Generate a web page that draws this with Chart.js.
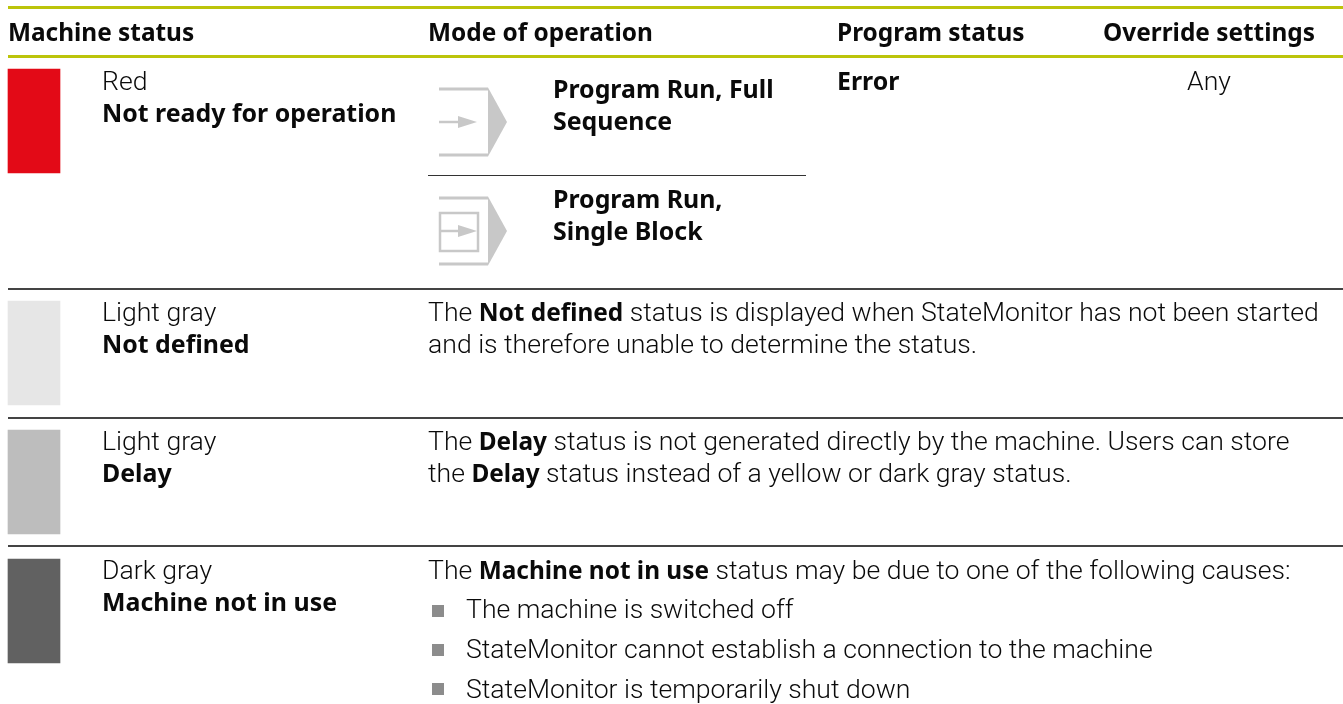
<!DOCTYPE html>
<html>
<head>
<meta charset="utf-8">
<title>Machine status</title>
<script src="https://cdn.jsdelivr.net/npm/chart.js@4"></script>
<style>
  html, body { margin: 0; padding: 0; background: #fff; }
  #wrap { width: 1343px; height: 704px; }
  canvas { display: block; }
</style>
</head>
<body>
<div id="wrap"><canvas id="statusChart" width="1343" height="704"></canvas></div>
<script>
const headers = ['Machine status', 'Mode of operation', 'Program status', 'Override settings'];
const colourNames = ['Red', 'Light gray', 'Light gray', 'Dark gray'];
const statusNames = ['Not ready for operation', 'Not defined', 'Delay', 'Machine not in use'];
const swatchColours = ['#e30a17', '#e6e6e6', '#bdbdbd', '#616161'];
const swatchTop = [69, 301, 430, 559];
const swatchBottom = [173, 405, 534, 663];
const modesFull = ['Program Run, Full', 'Sequence'];
const modesSingle = ['Program Run,', 'Single Block'];
const notDefinedText = ['The *Not defined* status is displayed when StateMonitor has not been started', 'and is therefore unable to determine the status.'];
const delayText = ['The *Delay* status is not generated directly by the machine. Users can store', 'the *Delay* status instead of a yellow or dark gray status.'];
const notInUseText = 'The *Machine not in use* status may be due to one of the following causes:';
const causes = ['The machine is switched off', 'StateMonitor cannot establish a connection to the machine', 'StateMonitor is temporarily shut down'];

const HEAD = 'bold 24.4px "Noto Sans"';
const BOLD = 'bold 24.9px "Noto Sans"';
const INLINE_BOLD = 'bold 24.4px "Noto Sans"';
const LIGHT = '300 26.6px Roboto';
const GREEN = '#bcc40a';
const ICON = '#c8c8c8';
const INK = '#0a0a0a';

function runs(ctx, x, y, str) {
  str.split('*').forEach((part, i) => {
    ctx.font = i % 2 ? INLINE_BOLD : LIGHT;
    ctx.fillText(part, x, y);
    x += ctx.measureText(part).width;
  });
}

function icon(ctx, x, y, boxed) {
  ctx.save();
  ctx.strokeStyle = ICON;
  ctx.fillStyle = ICON;
  ctx.lineWidth = 3;
  ctx.beginPath();
  ctx.moveTo(x, y);
  ctx.lineTo(x + 49, y);
  ctx.moveTo(x, y + 66);
  ctx.lineTo(x + 49, y + 66);
  ctx.stroke();
  ctx.beginPath();
  ctx.moveTo(x + 49, y - 1.5);
  ctx.lineTo(x + 68, y + 33);
  ctx.lineTo(x + 49, y + 67.5);
  ctx.closePath();
  ctx.fill();
  ctx.lineWidth = 2.5;
  if (boxed) ctx.strokeRect(x + 1, y + 15, 38, 38);
  ctx.beginPath();
  ctx.moveTo(x, y + 33);
  ctx.lineTo(x + 26, y + 33);
  ctx.stroke();
  ctx.beginPath();
  ctx.moveTo(x + 19, y + 27);
  ctx.lineTo(x + 38, y + 33);
  ctx.lineTo(x + 19, y + 39);
  ctx.closePath();
  ctx.fill();
  ctx.restore();
}

const tablePlugin = {
  id: 'tablePlugin',
  afterDatasetsDraw(chart) {
    const ctx = chart.ctx;
    const px = v => chart.scales.x.getPixelForValue(v);
    const py = v => chart.scales.y.getPixelForValue(v);
    ctx.save();

    // rules
    ctx.fillStyle = GREEN;
    ctx.fillRect(px(8), py(6), px(1343) - px(8), 3);
    ctx.fillRect(px(8), py(55), px(1343) - px(8), 3);
    ctx.fillStyle = '#444';
    [288, 417, 545].forEach(y => ctx.fillRect(px(8), py(y), px(1343) - px(8), 2));
    ctx.fillStyle = '#333';
    ctx.fillRect(px(428), py(175), 378, 1);

    ctx.fillStyle = INK;
    ctx.textBaseline = 'alphabetic';
    ctx.font = HEAD;
    [8, 428, 837, 1103].forEach((x, i) => ctx.fillText(headers[i], px(x), py(41)));

    // first column
    [90, 321, 450, 579].forEach((y, i) => {
      ctx.font = LIGHT;
      ctx.fillText(colourNames[i], px(102), py(y));
      ctx.font = BOLD;
      ctx.fillText(statusNames[i], px(102), py(y + 32));
    });

    // first row
    icon(ctx, px(439), py(89), false);
    icon(ctx, px(439), py(198), true);
    ctx.font = BOLD;
    modesFull.forEach((t, i) => ctx.fillText(t, px(553), py(98 + i * 32)));
    modesSingle.forEach((t, i) => ctx.fillText(t, px(553), py(208 + i * 32)));
    ctx.fillText('Error', px(837), py(90));
    ctx.font = LIGHT;
    ctx.textAlign = 'center';
    ctx.fillText('Any', px(1209), py(90));
    ctx.textAlign = 'left';

    // description rows
    notDefinedText.forEach((t, i) => runs(ctx, px(428), py(321 + i * 32), t));
    delayText.forEach((t, i) => runs(ctx, px(428), py(450 + i * 32), t));
    runs(ctx, px(428), py(579), notInUseText);
    ctx.font = LIGHT;
    causes.forEach((t, i) => {
      ctx.fillStyle = '#8c8c8c';
      ctx.fillRect(px(432), py(605 + i * 39), 12, 12);
      ctx.fillStyle = INK;
      ctx.fillText(t, px(466), py(618 + i * 40));
    });
    ctx.restore();
  }
};

new Chart(document.getElementById('statusChart').getContext('2d'), {
  type: 'bar',
  data: {
    labels: statusNames,
    datasets: [{
      label: 'Machine status',
      data: statusNames.map((s, i) => ({ x: 34, y: [swatchTop[i], swatchBottom[i]] })),
      backgroundColor: swatchColours,
      barThickness: 52,
      borderSkipped: false
    }]
  },
  options: {
    responsive: false,
    animation: false,
    layout: { padding: 0 },
    plugins: { legend: { display: false }, tooltip: { enabled: false } },
    scales: {
      x: { type: 'linear', display: false, offset: false, min: 0, max: 1343 },
      y: { display: false, reverse: true, min: 0, max: 704 }
    }
  },
  plugins: [tablePlugin]
});
</script>
</body>
</html>
